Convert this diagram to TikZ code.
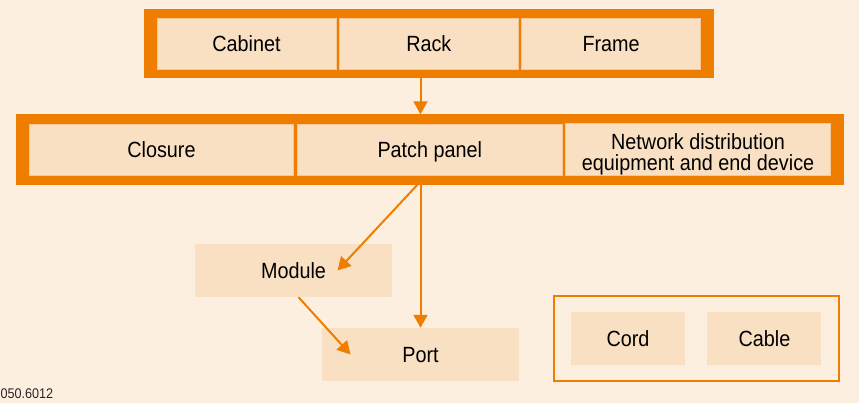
\documentclass[tikz,border=0pt]{standalone}
\usepackage{fontspec}
\setmainfont{Liberation Sans}[FakeStretch=0.9]
\usetikzlibrary{arrows.meta, positioning, fit, backgrounds}
\definecolor{ora}{HTML}{EE7D00}
\definecolor{paper}{HTML}{FDEFE0}
\definecolor{cellfill}{HTML}{F9E0C3}
\definecolor{celledge}{HTML}{F6C898}

\begin{document}
\begin{tikzpicture}[
        x=1pt, y=-1pt,
        font=\fontsize{22}{21}\selectfont,
        node distance=2.5pt and 2.5pt,
        cell/.style={fill=cellfill, draw=celledge, line width=0.8pt, align=center,
            minimum height=51pt, inner sep=0pt},
        one/.style={text height=16pt, text depth=0pt},
        box/.style={fill=cellfill, align=center, minimum height=53pt, inner sep=0pt, one},
        frame/.style={fill=ora, inner xsep=13pt, inner ysep=9pt, outer sep=0pt},
        group/.style={draw=ora, line width=2pt, inner xsep=17pt, inner ysep=16pt},
        arr/.style={draw=ora, line width=2pt, -{Triangle[length=13pt, width=14pt]}},
    ]
        \useasboundingbox (0,0) rectangle (859,403);

        % holders row
        \node[cell, one, minimum width=179pt] (cab) at (246.5,43.5) {Cabinet};
        \node[cell, one, minimum width=179pt, right=of cab] (rack) {Rack};
        \node[cell, one, minimum width=179pt, right=of rack] (frm) {Frame};

        % panels row
        \node[cell, one, minimum width=264.5pt] (clo) at (161.5,149.5) {Closure};
        \node[cell, one, minimum width=264.5pt, right=3pt of clo] (patch) {Patch panel};
        \node[cell, minimum width=264.5pt, right=3pt of patch] (net)
            {\rule{0pt}{26pt}Network distribution\\equipment and end device};

        % parts
        \node[box, minimum width=197pt] (module) at (293.5,270.5) {Module};
        \node[box, minimum width=197pt] (port) at (420.5,354.5) {Port};
        \node[box, minimum width=114pt] (cord) at (628,338.5) {Cord};
        \node[box, minimum width=114pt, right=22pt of cord] (cable) {Cable};

        \node[anchor=west, font=\fontsize{14}{14}\selectfont, text=black!85] (code)
            at (-3,394) {050.6012};

        \begin{scope}[on background layer]
            \fill[paper] (0,0) rectangle (859,403);
            \node[frame, fit=(cab)(frm)] (top) {};
            \node[frame, fit=(clo)(net)] (low) {};
            \node[group, fit=(cord)(cable)] (links) {};
        \end{scope}

        \coordinate (fork) at (low.south -| port);
        \draw[arr] (top.south -| port) -- (low.north -| port);
        \draw[arr] (fork) -- (port.north);
        \draw[arr] ([xshift=-3pt]fork) -- ([xshift=44pt]module.center);
        \draw[arr] ([xshift=5pt]module.south) -- ([xshift=-70pt]port.center);
    \end{tikzpicture}
\end{document}
